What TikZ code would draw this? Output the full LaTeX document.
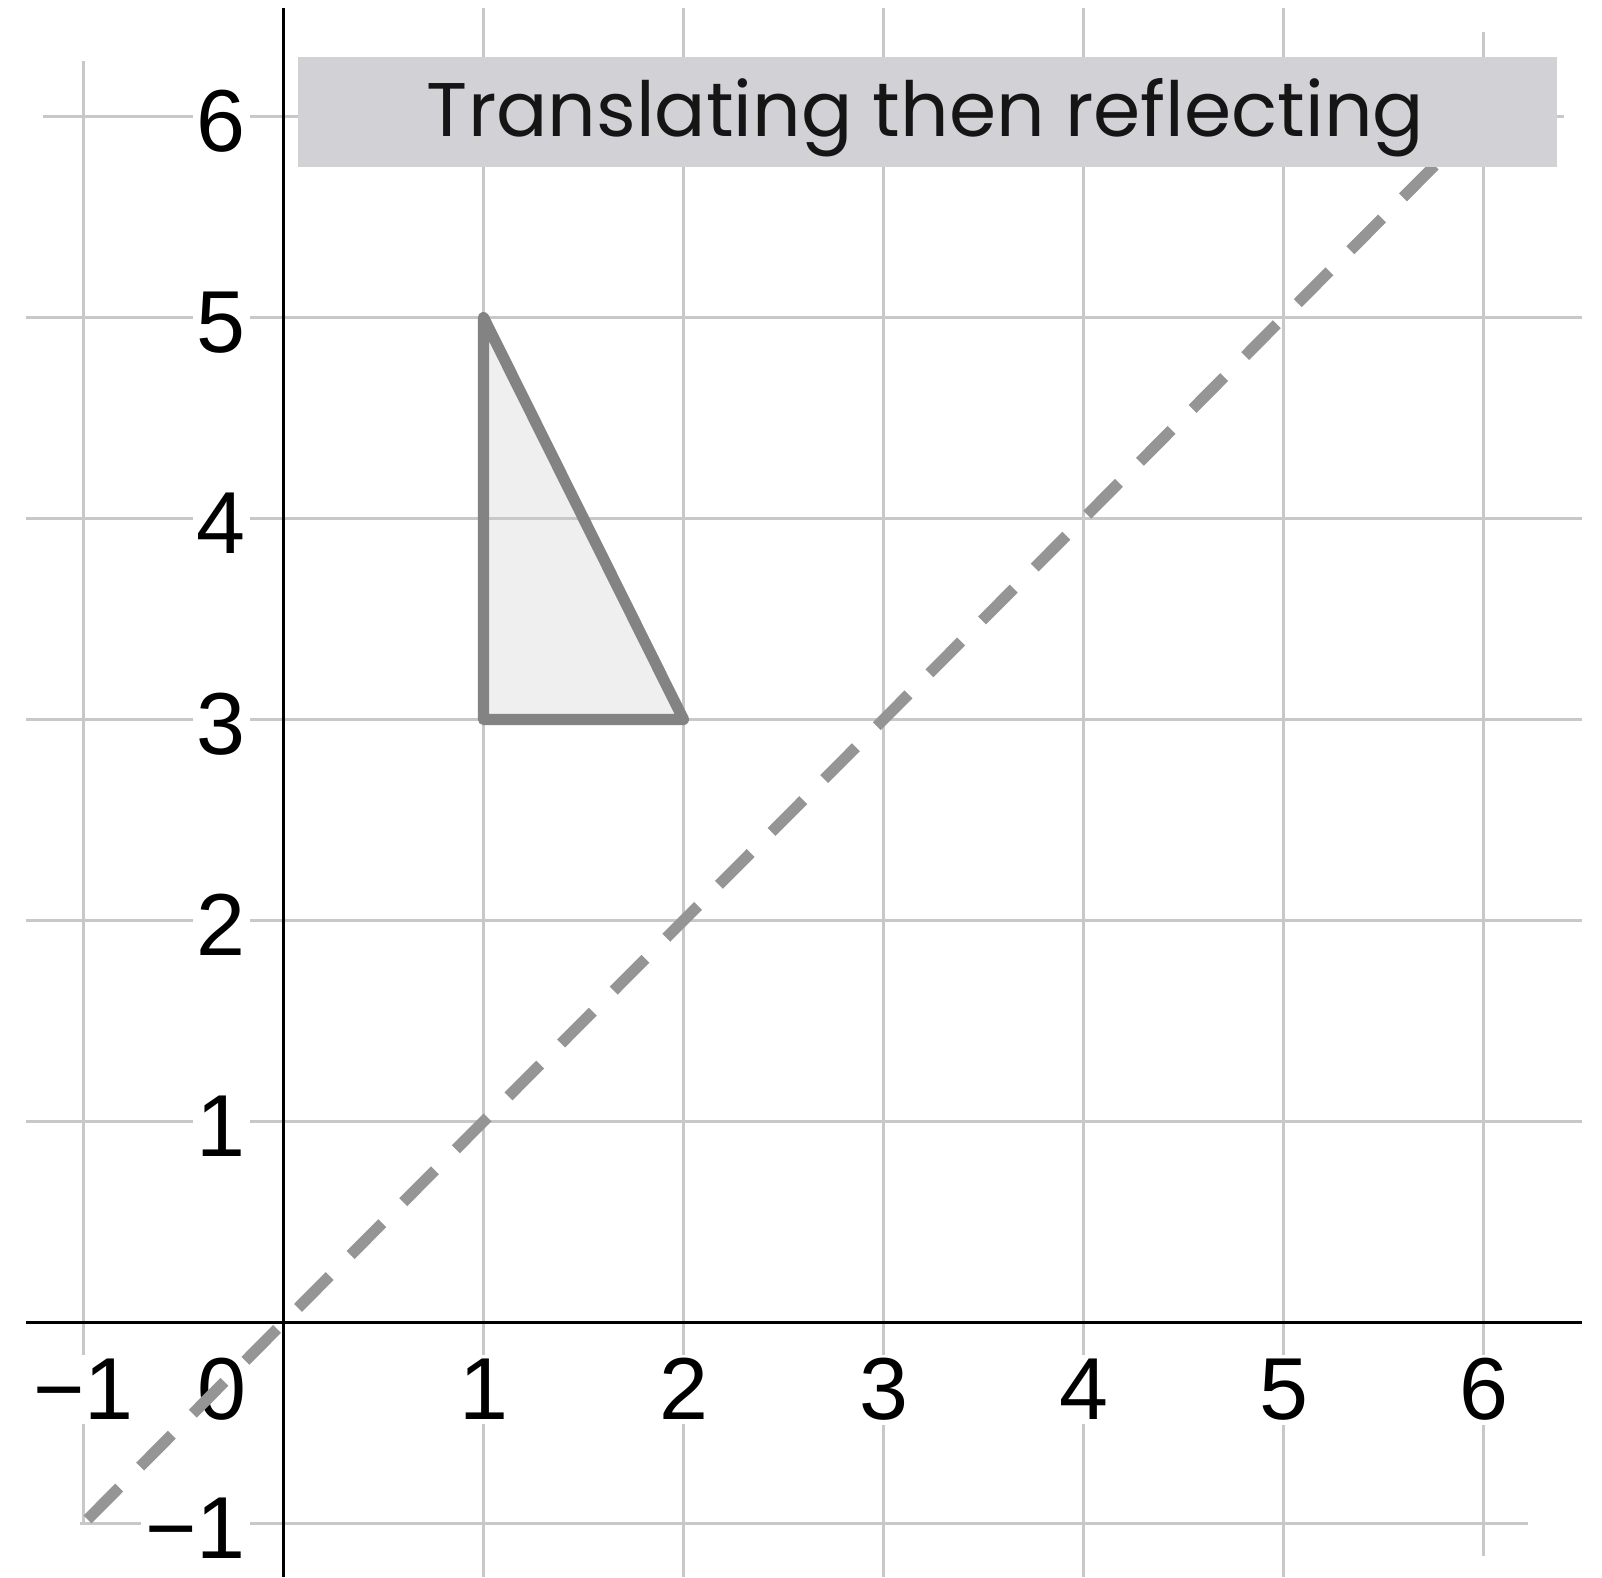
\documentclass[tikz,border=0pt]{standalone}
\usepackage{fontspec}
\setmainfont{Liberation Sans}
\newfontfamily\titlefont{Poppins}
\definecolor{gridgray}{HTML}{C8C8C8}
\definecolor{trifill}{HTML}{EFEFEF}
\definecolor{tristroke}{HTML}{838383}
\definecolor{dashgray}{HTML}{959595}
\definecolor{boxgray}{HTML}{D2D2D6}
\definecolor{titletext}{HTML}{151515}
\begin{document}
\begin{tikzpicture}[x=100pt,y=100.5pt,
  gridline/.style={draw=gridgray, line width=1.5pt},
  axisline/.style={draw=black, line width=1.9pt},
  ticklbl/.style={font=\fontsize{44}{48}\selectfont, fill=white, inner sep=2pt, text=black},
  xlbl/.style={ticklbl, anchor=base},
  ylbl/.style={ticklbl, anchor=base east},
  dashline/.style={draw=dashgray, line width=5.6pt, dash pattern=on 22.5pt off 14.8pt},
  tri/.style={draw=tristroke, line width=5.6pt, line join=round, line cap=round},
  titlebox/.style={fill=boxgray},
  titlelbl/.style={font=\titlefont\fontsize{38}{44}\selectfont, text=titletext, anchor=base, inner sep=0pt}]
% bounding box
\useasboundingbox (-1.4175,-1.2662) rectangle (6.5925,6.5796);
% triangle fill
\coordinate (A) at (1,5);
\coordinate (B) at (1,3);
\coordinate (C) at (2,3);
\fill[trifill] (A) -- (B) -- (C) -- cycle;
% vertical grid lines
\foreach \i in {1,...,5} {\draw[gridline] (\i,-1.266) -- (\i,6.540);}
\draw[gridline] (-1,-0.996) -- (-1,6.276);
\draw[gridline] (6,-1.162) -- (6,6.420);
% horizontal grid lines
\foreach \j in {1,...,5} {\draw[gridline] (-1.2875,\j) -- (6.4925,\j);}
\draw[gridline] (-1.2025,6) -- (6.4025,6);
\draw[gridline] (-1.0175,-1) -- (6.2225,-1);
% axes
\draw[axisline] (-1.2875,0) -- (6.4925,0);
\draw[axisline] (0,-1.266) -- (0,6.540);
% triangle outline
\draw[tri] (A) -- (B) -- (C) -- cycle;
% x tick labels
\node[xlbl] (xm1) at (-1,-0.485) {−1};
\node[xlbl] (x0) at (-0.3075,-0.485) {0};
\foreach \i in {1,...,6} {\node[xlbl] (x\i) at (\i,-0.485) {\i};}
% y tick labels
\node[ylbl] (ym1) at (-0.1675,-1.174) {−1};
\foreach \j in {1,...,6} {\node[ylbl] (y\j) at (-0.1675,\j-0.174) {\j};}
% dashed line y = x
\coordinate (L0) at (-0.98,-0.98);
\coordinate (L1) at (6.2,6.2);
\draw[dashline] (L0) -- (L1);
% title
\fill[titlebox] (0.071,5.750) rectangle (6.366,6.296);
\node[titlelbl] (title) at (3.21,5.8995) {Translating then reflecting};
\end{tikzpicture}
\end{document}
